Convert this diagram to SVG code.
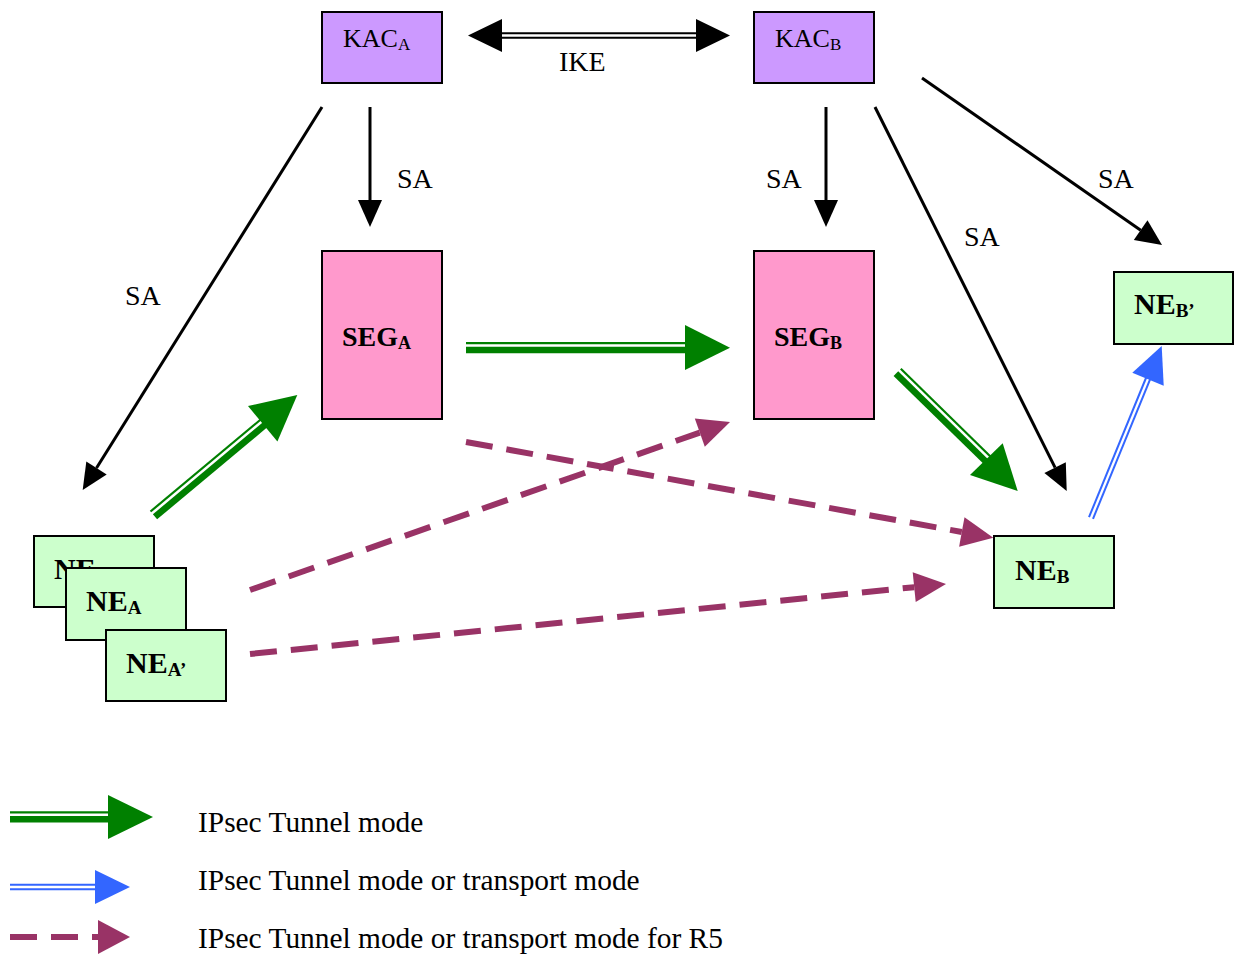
<svg xmlns="http://www.w3.org/2000/svg" width="1234" height="955" viewBox="0 0 1234 955">
<style>
.box{stroke:#000;stroke-width:2}
.kac{fill:#CC99FF}
.seg{fill:#FF99CC}
.ne{fill:#CCFFCC}
.t{font-family:"Liberation Serif","Times New Roman",serif;fill:#000}
.lbl{font-size:28px}
.nb{font-size:30px;font-weight:bold}
.blk{stroke:#000;stroke-width:3;fill:none}
.gthin{stroke:#008000;stroke-width:2.2;fill:none}
.gthick{stroke:#008000;stroke-width:6.6;fill:none}
.blue{stroke:#3366FF;stroke-width:2;fill:none}
.pur{stroke:#993366;stroke-width:6;fill:none;stroke-dasharray:27 14}
.ik{stroke:#000;stroke-width:2;fill:none}
</style>
<rect width="1234" height="955" fill="#fff"/>
<g id="connectors">
  <line class="ik" x1="500" y1="33.3" x2="698" y2="33.3"/>
  <line class="ik" x1="500" y1="37.7" x2="698" y2="37.7"/>
  <polygon points="468,35.5 502,19 502,52"/>
  <polygon points="730,35.5 696,19 696,52"/>
  <line class="blk" x1="322" y1="107" x2="96.5" y2="468"/>
  <polygon points="82.7,490 106.7,474.4 86.3,461.6"/>
  <line class="blk" x1="370" y1="107" x2="370" y2="202"/>
  <polygon points="358,200 382,200 370,227"/>
  <line class="blk" x1="826" y1="107" x2="826" y2="202"/>
  <polygon points="814,200 838,200 826,227"/>
  <line class="blk" x1="875" y1="107" x2="1055.1" y2="467.7"/>
  <polygon points="1066.7,491 1065.8,462.3 1044.4,473.1"/>
  <line class="blk" x1="922" y1="78" x2="1140.7" y2="230.2"/>
  <polygon points="1162,245 1147.5,220.3 1133.8,240"/>
  <line class="gthin" x1="466" y1="343.1" x2="688" y2="343.1"/>
  <line class="gthick" x1="466" y1="350" x2="688" y2="350"/>
  <polygon fill="#008000" points="685,325 730,347.7 685,370"/>
  <line class="gthin" x1="150.5" y1="511.5" x2="261.3" y2="419"/>
  <line class="gthick" x1="155" y1="516.8" x2="265.7" y2="424.3"/>
  <polygon fill="#008000" points="297.3,395 248,406.1 277.4,441.5"/>
  <line class="gthin" x1="900.8" y1="368.8" x2="991.7" y2="457.7"/>
  <line class="gthick" x1="895.9" y1="373.6" x2="986.8" y2="462.5"/>
  <polygon fill="#008000" points="1017.7,491 970,475 1002.7,443.3"/>
  <line class="blue" x1="1089" y1="517.2" x2="1146.8" y2="376"/>
  <line class="blue" x1="1093" y1="518.8" x2="1150.8" y2="377.6"/>
  <polygon fill="#3366FF" points="1161.7,346 1132.3,372.8 1163.7,385.8"/>
  <line class="pur" x1="466" y1="442" x2="961.8" y2="532"/>
  <polygon fill="#993366" points="993.3,537.7 964.5,517.2 959.1,546.8"/>
  <line class="pur" x1="250" y1="590" x2="699.8" y2="432.6"/>
  <polygon fill="#993366" points="730,422 694.8,418.4 704.8,446.8"/>
  <line class="pur" x1="250" y1="654" x2="914.2" y2="587.2"/>
  <polygon fill="#993366" points="946,584 912.7,572.3 915.7,602.1"/>
</g>
<g id="labels" class="t lbl">
  <text x="559" y="71">IKE</text>
  <text x="397" y="188">SA</text>
  <text x="766" y="188">SA</text>
  <text x="1098" y="188">SA</text>
  <text x="964" y="246">SA</text>
  <text x="125" y="305">SA</text>
</g>
<g id="KAC_A"><rect class="box kac" x="322" y="12" width="120" height="71"/><text class="t" font-size="26" x="343" y="47">KAC<tspan font-size="17" dy="3">A</tspan></text></g>
<g id="KAC_B"><rect class="box kac" x="754" y="12" width="120" height="71"/><text class="t" font-size="26" x="775" y="47">KAC<tspan font-size="17" dy="3">B</tspan></text></g>
<g id="SEG_A"><rect class="box seg" x="322" y="251" width="120" height="168"/><text class="t" font-size="28" font-weight="bold" x="342" y="346">SEG<tspan font-size="18" dy="3">A</tspan></text></g>
<g id="SEG_B"><rect class="box seg" x="754" y="251" width="120" height="168"/><text class="t" font-size="28" font-weight="bold" x="774" y="346">SEG<tspan font-size="18" dy="3">B</tspan></text></g>
<g id="NE_Bp"><rect class="box ne" x="1114" y="272" width="119" height="72"/><text class="t nb" x="1134" y="314">NE<tspan font-size="19" dy="3">B’</tspan></text></g>
<g id="NE_B"><rect class="box ne" x="994" y="536" width="120" height="72"/><text class="t nb" x="1015" y="580">NE<tspan font-size="19" dy="3">B</tspan></text></g>
<g id="NE_A0"><rect class="box ne" x="34" y="536" width="120" height="71"/><text class="t nb" x="54" y="579">NE</text></g>
<g id="NE_A"><rect class="box ne" x="66" y="568" width="120" height="72"/><text class="t nb" x="86" y="611">NE<tspan font-size="19" dy="3">A</tspan></text></g>
<g id="NE_Ap"><rect class="box ne" x="106" y="630" width="120" height="71"/><text class="t nb" x="126" y="673">NE<tspan font-size="19" dy="3">A’</tspan></text></g>
<g id="legend">
  <line class="gthin" x1="10" y1="812.4" x2="111" y2="812.4"/>
  <line class="gthick" x1="10" y1="819.3" x2="111" y2="819.3"/>
  <polygon fill="#008000" points="108,795 153,817 108,839"/>
  <line class="blue" x1="10" y1="884.8" x2="97" y2="884.8"/>
  <line class="blue" x1="10" y1="889.2" x2="97" y2="889.2"/>
  <polygon fill="#3366FF" points="95,870 130,887 95,904"/>
  <line class="pur" x1="10" y1="937" x2="100" y2="937"/>
  <polygon fill="#993366" points="98,920 130,937 98,954"/>
  <text class="t" font-size="29.4" x="198" y="832">IPsec Tunnel mode</text>
  <text class="t" font-size="29.4" x="198" y="890">IPsec Tunnel mode or transport mode</text>
  <text class="t" font-size="29.4" x="198" y="948">IPsec Tunnel mode or transport mode for R5</text>
</g>
</svg>
